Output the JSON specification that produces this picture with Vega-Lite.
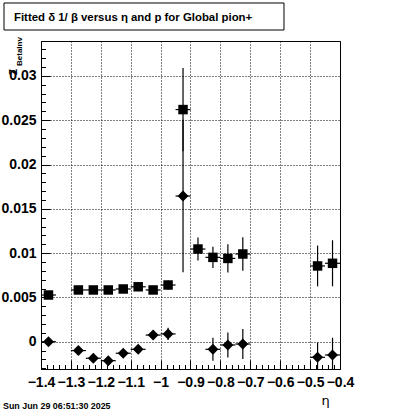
{
  "$schema": "https://vega.github.io/schema/vega-lite/v6.json",
  "width": 299,
  "height": 328,
  "autosize": "none",
  "padding": {"left": 41, "top": 41, "right": 60, "bottom": 45},
  "background": "white",
  "config": {
    "view": {"stroke": "black", "strokeWidth": 1},
    "font": "Liberation Sans",
    "axis": {
      "labelFont": "Liberation Sans",
      "labelFontSize": 14,
      "labelFontWeight": "bold",
      "labelColor": "black",
      "labelFlush": false,
      "labelOverlap": false,
      "labelBound": false,
      "tickColor": "black",
      "domainColor": "black",
      "gridColor": "black",
      "gridDash": [1, 2],
      "gridOpacity": 1
    }
  },
  "resolve": {"axis": {"x": "independent", "y": "independent"}},
  "datasets": {
    "pts": [
      {"eta": -1.375, "elo": -1.4, "ehi": -1.35, "v": 0.00527, "lo": 0.00497, "hi": 0.00557, "set": "set1"},
      {"eta": -1.275, "elo": -1.3, "ehi": -1.25, "v": 0.00584, "lo": 0.00564, "hi": 0.00604, "set": "set1"},
      {"eta": -1.225, "elo": -1.25, "ehi": -1.2, "v": 0.00584, "lo": 0.00564, "hi": 0.00604, "set": "set1"},
      {"eta": -1.175, "elo": -1.2, "ehi": -1.15, "v": 0.00584, "lo": 0.00564, "hi": 0.00604, "set": "set1"},
      {"eta": -1.125, "elo": -1.15, "ehi": -1.1, "v": 0.00595, "lo": 0.00565, "hi": 0.00625, "set": "set1"},
      {"eta": -1.075, "elo": -1.1, "ehi": -1.05, "v": 0.0062, "lo": 0.0059, "hi": 0.0065, "set": "set1"},
      {"eta": -1.025, "elo": -1.05, "ehi": -1.0, "v": 0.00584, "lo": 0.00564, "hi": 0.00604, "set": "set1"},
      {"eta": -0.975, "elo": -1.0, "ehi": -0.95, "v": 0.0064, "lo": 0.0059, "hi": 0.0069, "set": "set1"},
      {"eta": -0.925, "elo": -0.95, "ehi": -0.9, "v": 0.0262, "lo": 0.0215, "hi": 0.0309, "set": "set1"},
      {"eta": -0.875, "elo": -0.9, "ehi": -0.85, "v": 0.01046, "lo": 0.00916, "hi": 0.01176, "set": "set1"},
      {"eta": -0.825, "elo": -0.85, "ehi": -0.8, "v": 0.00952, "lo": 0.00832, "hi": 0.01072, "set": "set1"},
      {"eta": -0.775, "elo": -0.8, "ehi": -0.75, "v": 0.0094, "lo": 0.0078, "hi": 0.011, "set": "set1"},
      {"eta": -0.725, "elo": -0.75, "ehi": -0.7, "v": 0.0099, "lo": 0.008, "hi": 0.0118, "set": "set1"},
      {"eta": -0.475, "elo": -0.5, "ehi": -0.45, "v": 0.00855, "lo": 0.00625, "hi": 0.01085, "set": "set1"},
      {"eta": -0.425, "elo": -0.45, "ehi": -0.4, "v": 0.00885, "lo": 0.00625, "hi": 0.01145, "set": "set1"},
      {"eta": -1.375, "elo": -1.4, "ehi": -1.35, "v": 0.0, "lo": -0.0002, "hi": 0.0002, "set": "set2"},
      {"eta": -1.275, "elo": -1.3, "ehi": -1.25, "v": -0.001, "lo": -0.0012, "hi": -0.0008, "set": "set2"},
      {"eta": -1.225, "elo": -1.25, "ehi": -1.2, "v": -0.00187, "lo": -0.00207, "hi": -0.00167, "set": "set2"},
      {"eta": -1.175, "elo": -1.2, "ehi": -1.15, "v": -0.00214, "lo": -0.00244, "hi": -0.00184, "set": "set2"},
      {"eta": -1.125, "elo": -1.15, "ehi": -1.1, "v": -0.0013, "lo": -0.0016, "hi": -0.001, "set": "set2"},
      {"eta": -1.075, "elo": -1.1, "ehi": -1.05, "v": -0.00086, "lo": -0.00106, "hi": -0.00066, "set": "set2"},
      {"eta": -1.025, "elo": -1.05, "ehi": -1.0, "v": 0.00075, "lo": 0.00045, "hi": 0.00105, "set": "set2"},
      {"eta": -0.975, "elo": -1.0, "ehi": -0.95, "v": 0.00088, "lo": 0.00018, "hi": 0.00158, "set": "set2"},
      {"eta": -0.925, "elo": -0.95, "ehi": -0.9, "v": 0.01644, "lo": 0.00784, "hi": 0.02504, "set": "set2"},
      {"eta": -0.825, "elo": -0.85, "ehi": -0.8, "v": -0.00086, "lo": -0.00216, "hi": 0.00044, "set": "set2"},
      {"eta": -0.775, "elo": -0.8, "ehi": -0.75, "v": -0.00037, "lo": -0.00177, "hi": 0.00103, "set": "set2"},
      {"eta": -0.725, "elo": -0.75, "ehi": -0.7, "v": -0.00026, "lo": -0.00196, "hi": 0.00144, "set": "set2"},
      {"eta": -0.475, "elo": -0.5, "ehi": -0.45, "v": -0.00176, "lo": -0.0034, "hi": -0.0001, "set": "set2"},
      {"eta": -0.425, "elo": -0.45, "ehi": -0.4, "v": -0.0015, "lo": -0.0035, "hi": 0.00045, "set": "set2"}
    ]
  },
  "layer": [
    {
      "data": {"name": "pts"},
      "mark": {"type": "rule", "color": "black", "strokeWidth": 1.2, "clip": true},
      "encoding": {
        "x": {
          "field": "elo",
          "type": "quantitative",
          "scale": {"domain": [-1.4, -0.4], "nice": false, "zero": false},
          "axis": {
            "orient": "bottom",
            "title": "η",
            "titleFont": "DejaVu Sans",
            "titleFontSize": 13,
            "titleFontWeight": "normal",
            "titleColor": "black",
            "titleX": 284,
            "titleY": 35,
            "titleAlign": "center",
            "titleBaseline": "alphabetic",
            "values": [-1.4,-1.3,-1.2,-1.1,-1.0,-0.9,-0.8,-0.7,-0.6,-0.5,-0.4],
            "format": "~g",
            "labelPadding": 15,
            "labelBaseline": "top",
            "tickSize": -9,
            "grid": true
          }
        },
        "x2": {"field": "ehi"},
        "y": {
          "field": "v",
          "type": "quantitative",
          "scale": {"domain": [-0.00308, 0.03394], "nice": false, "zero": false},
          "axis": {
            "orient": "left",
            "title": null,
            "values": [0, 0.005, 0.01, 0.015, 0.02, 0.025, 0.03],
            "format": "~g",
            "labelPadding": 14,
            "tickSize": -9,
            "grid": true
          }
        }
      }
    },
    {
      "data": {"name": "pts"},
      "mark": {"type": "rule", "color": "black", "strokeWidth": 1.2, "clip": true},
      "encoding": {
        "x": {
          "field": "eta",
          "type": "quantitative",
          "axis": {
            "orient": "bottom",
            "title": null,
            "labels": false,
            "domain": false,
            "grid": false,
            "tickSize": -4.5,
            "values": [-1.38,-1.36,-1.34,-1.32,-1.28,-1.26,-1.24,-1.22,-1.18,-1.16,-1.14,-1.12,-1.08,-1.06,-1.04,-1.02,-0.98,-0.96,-0.94,-0.92,-0.88,-0.86,-0.84,-0.82,-0.78,-0.76,-0.74,-0.72,-0.68,-0.66,-0.64,-0.62,-0.58,-0.56,-0.54,-0.52,-0.48,-0.46,-0.44,-0.42]
          }
        },
        "y": {
          "field": "lo",
          "type": "quantitative",
          "axis": {
            "orient": "left",
            "title": null,
            "labels": false,
            "domain": false,
            "grid": false,
            "tickSize": -4.5,
            "values": [-0.003,-0.002,-0.001,0.001,0.002,0.003,0.004,0.006,0.007,0.008,0.009,0.011,0.012,0.013,0.014,0.016,0.017,0.018,0.019,0.021,0.022,0.023,0.024,0.026,0.027,0.028,0.029,0.031,0.032,0.033]
          }
        },
        "y2": {"field": "hi"}
      }
    },
    {
      "data": {"name": "pts"},
      "mark": {"type": "point", "filled": true, "color": "black", "opacity": 1, "strokeWidth": 0},
      "encoding": {
        "x": {"field": "eta", "type": "quantitative", "axis": null},
        "y": {"field": "v", "type": "quantitative", "axis": null},
        "shape": {"field": "set", "type": "nominal", "scale": {"domain": ["set1", "set2"], "range": ["square", "diamond"]}, "legend": null},
        "size": {"field": "set", "type": "nominal", "scale": {"domain": ["set1", "set2"], "range": [90, 120]}, "legend": null}
      }
    },
    {
      "data": {"values": [{}]},
      "mark": {"type": "rect", "fillOpacity": 0, "stroke": "black", "strokeWidth": 1},
      "encoding": {
        "x": {"datum": -1.5237, "type": "quantitative", "axis": null},
        "x2": {"datum": -0.5873},
        "y": {"datum": 0.03823, "type": "quantitative", "axis": null},
        "y2": {"datum": 0.03518}
      }
    },
    {
      "data": {"values": [{"t": "Fitted δ 1/ β  versus η  and p for Global pion+"}]},
      "mark": {"type": "text", "align": "left", "baseline": "middle", "font": "Liberation Sans", "fontSize": 11.4, "fontWeight": "bold", "color": "black"},
      "encoding": {
        "x": {"datum": -1.4903, "type": "quantitative", "axis": null},
        "y": {"datum": 0.03653, "type": "quantitative", "axis": null},
        "text": {"field": "t"}
      }
    },
    {
      "data": {"values": [{"t": "Z"}]},
      "mark": {"type": "text", "angle": 270, "align": "left", "baseline": "alphabetic", "font": "Liberation Sans", "fontSize": 10, "fontWeight": "bold", "color": "black"},
      "encoding": {
        "x": {"datum": -1.4803, "type": "quantitative", "axis": null},
        "y": {"datum": 0.0301, "type": "quantitative", "axis": null},
        "text": {"field": "t"}
      }
    },
    {
      "data": {"values": [{"t": "BetaInv"}]},
      "mark": {"type": "text", "angle": 270, "align": "left", "baseline": "alphabetic", "font": "Liberation Sans", "fontSize": 8, "fontWeight": "bold", "color": "black"},
      "encoding": {
        "x": {"datum": -1.4635, "type": "quantitative", "axis": null},
        "y": {"datum": 0.03112, "type": "quantitative", "axis": null},
        "text": {"field": "t"}
      }
    },
    {
      "data": {"values": [{"t": "Sun Jun 29 06:51:30 2025"}]},
      "mark": {"type": "text", "align": "left", "baseline": "alphabetic", "font": "Liberation Sans", "fontSize": 8.9, "fontWeight": "bold", "color": "black"},
      "encoding": {
        "x": {"datum": -1.5271, "type": "quantitative", "axis": null},
        "y": {"datum": -0.0076, "type": "quantitative", "axis": null},
        "text": {"field": "t"}
      }
    }
  ]
}
